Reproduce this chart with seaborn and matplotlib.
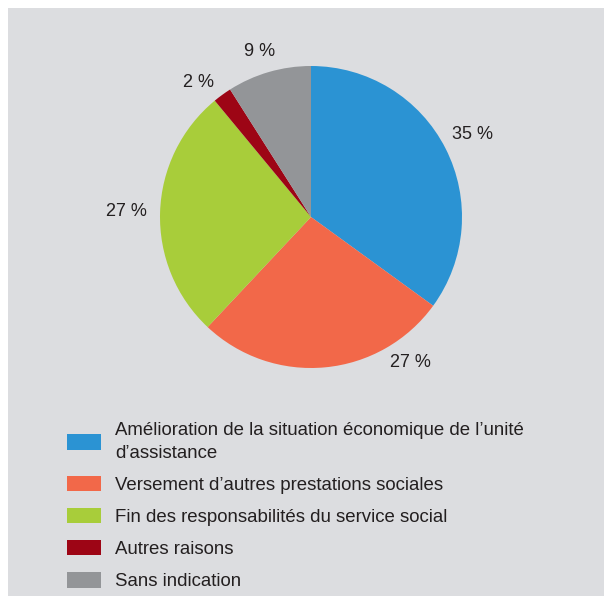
import matplotlib
matplotlib.use("Agg")
import matplotlib.pyplot as plt
import matplotlib.patches as mpatches
import numpy as np
import seaborn as sns

# Motifs de sortie de l'aide sociale (parts en %)
categories = [
    "Amélioration de la situation économique de l’unité\nd’assistance",
    "Versement d’autres prestations sociales",
    "Fin des responsabilités du service social",
    "Autres raisons",
    "Sans indication",
]
shares = [35, 27, 27, 2, 9]
share_labels = ["35 %", "27 %", "27 %", "2 %", "9 %"]
colors = ["#2b93d3", "#f26849", "#a8cd3a", "#9d0515", "#939598"]

sns.set_theme(style="white")
plt.rcParams["font.family"] = ["Liberation Sans", "DejaVu Sans"]

W, H = 604, 596
fig = plt.figure(figsize=(W / 100, H / 100), dpi=100)
fig.patch.set_facecolor("white")

# fond gris
fig.add_artist(mpatches.Rectangle((8 / W, 0), 1, 1 - 8 / H, transform=fig.transFigure,
                                  facecolor="#dcdde0", edgecolor="none", zorder=0))

# axe carré centré sur le camembert
cx, cy, r = 311, 217, 151
side = 3 * r
ax = fig.add_axes([(cx - side / 2) / W, (H - cy - side / 2) / H, side / W, side / H])
ax.set_facecolor("none")

wedges, _ = ax.pie(shares, colors=colors, startangle=90, counterclock=False,
                   wedgeprops=dict(linewidth=0))
ax.set_xlim(-1.5, 1.5)
ax.set_ylim(-1.5, 1.5)
ax.set_aspect("equal")
ax.axis("off")

# placement des étiquettes (décalage angulaire et distance par part)
angle_shift = [0, 29, 0, 4, 1]
label_dist = [1.2, 1.17, 1.22, 1.16, 1.15]
for w, txt, da, d in zip(wedges, share_labels, angle_shift, label_dist):
    ang = np.deg2rad((w.theta1 + w.theta2) / 2 + da)
    ax.text(d * np.cos(ang), d * np.sin(ang), txt, ha="center", va="center",
            fontsize=13, color="#231f20")

leg = fig.legend(wedges, categories, loc="upper left",
                 bbox_to_anchor=(67 / W, 1 - 422 / H), frameon=False,
                 fontsize=13.4, borderpad=0, borderaxespad=0,
                 handlelength=1.8, handleheight=0.9, handletextpad=0.8,
                 labelspacing=0.75)
for t in leg.get_texts():
    t.set_color("#231f20")
    t.set_linespacing(1.45)

fig.savefig("out.png", dpi=100)
